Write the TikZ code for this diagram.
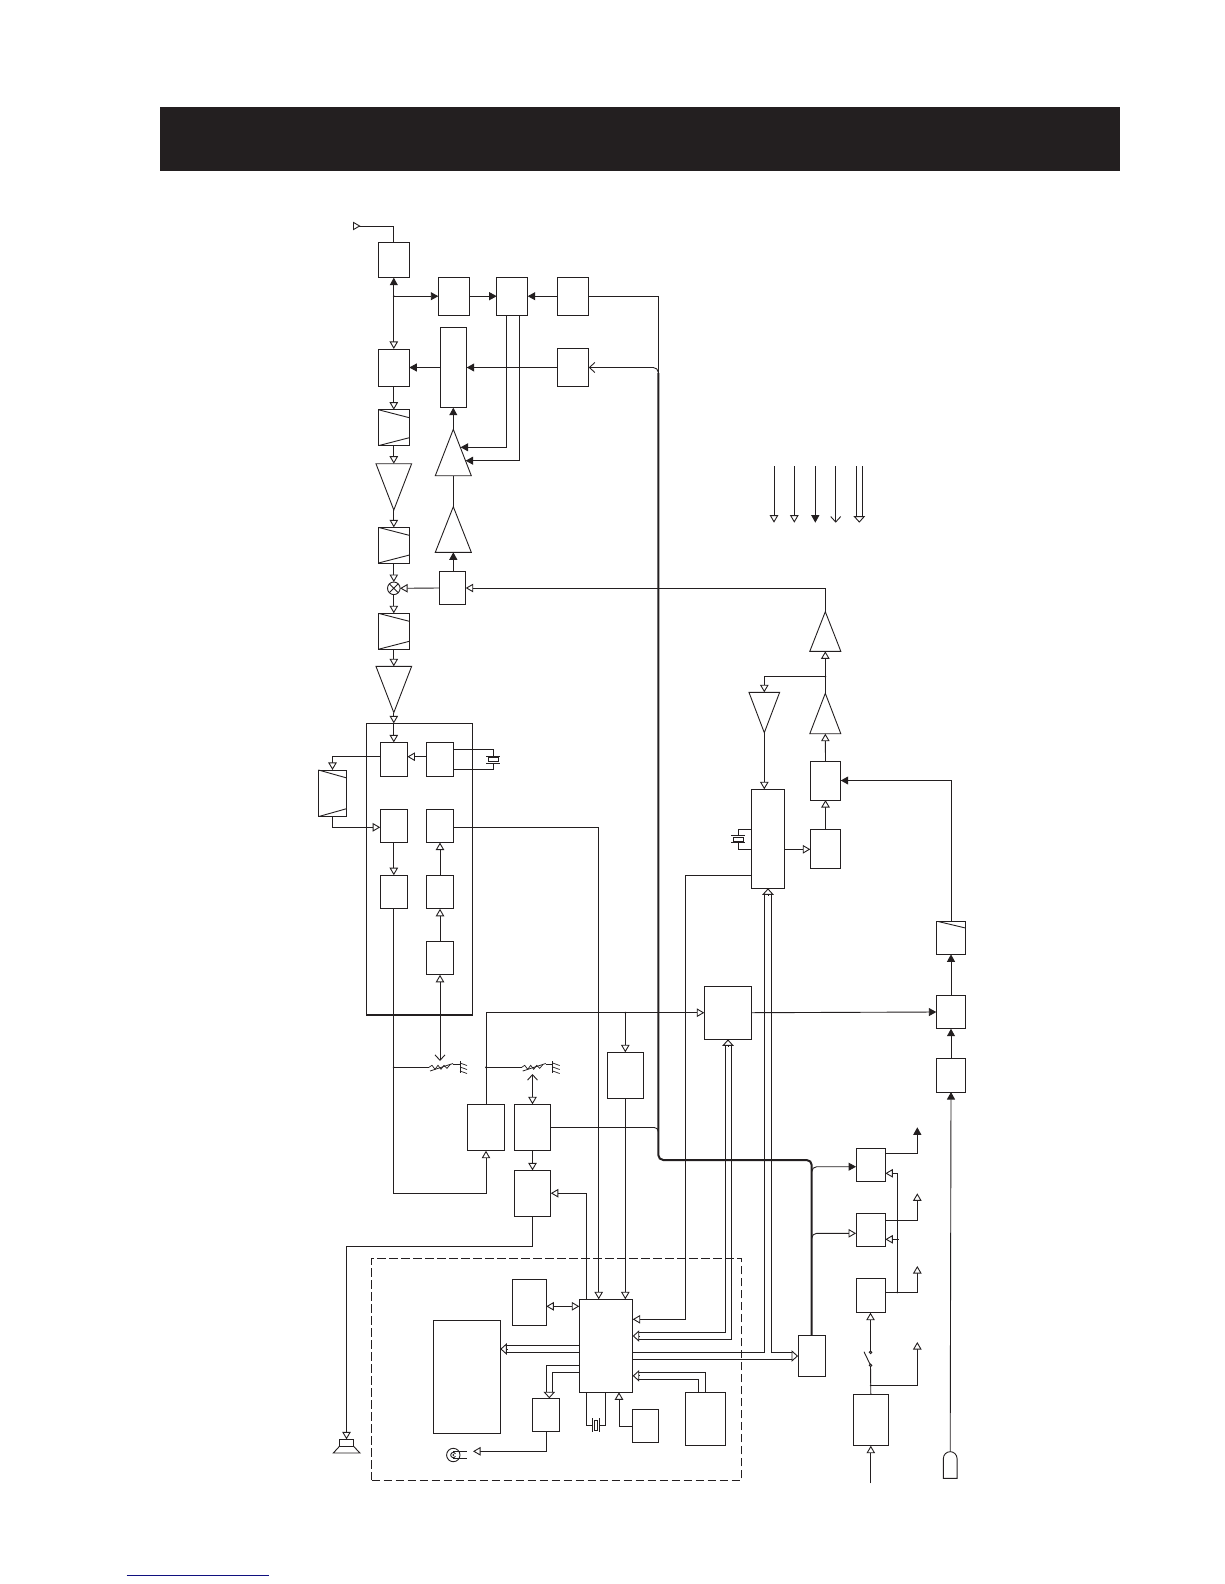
\documentclass[tikz,border=0pt]{standalone}
\usepackage{amsmath,amssymb}
\usetikzlibrary{arrows.meta,calc,shapes.geometric}
\definecolor{ink}{HTML}{231F20}
\definecolor{rulec}{HTML}{10107F}
\tikzset{
  tipO/.tip={Triangle[open,fill=white,length=7.5pt,width=8.5pt]},
  tipF/.tip={Triangle[length=7.5pt,width=8pt]},
  tipV/.tip={Straight Barb[length=5.5pt,width=10pt]},
  tipW/.tip={Triangle[open,fill=white,length=6.5pt,width=11.5pt]},
  ln/.style={draw=ink,line width=.9pt},
  bus/.style={draw=ink,line width=2pt},
  box/.style={draw=ink,line width=.9pt,inner sep=0pt,outer sep=0pt},
  trap/.style={box,path picture={
    \draw[ln] (path picture bounding box.north west) -- ([yshift=-8pt]path picture bounding box.north east);
    \draw[ln] (path picture bounding box.south west) -- ([yshift=8pt]path picture bounding box.south east);}},
  slant/.style={box,path picture={
    \draw[ln] (path picture bounding box.north west) -- ([yshift=-7pt]path picture bounding box.north east);}},
  tri/.style={box,isosceles triangle,isosceles triangle stretches,anchor=apex},
  triup/.style={tri,shape border rotate=90},
  tridn/.style={tri,shape border rotate=270},
  xtal/.style={box},
}
\begin{document}
\begin{tikzpicture}[x=1pt,y=-1pt]
  \useasboundingbox (0,0) rectangle (1224,1584);
  \node[draw=none,fill=ink,minimum width=960pt,minimum height=64pt,inner sep=0pt] (hdr) at (640,138.7) {};
  \draw[draw=rulec,line width=1pt] (126.7,1575.3) -- (269,1575.3);
  % transmit / receive chain
  \foreach \n/\x/\y/\w/\h in {rfsw/393.8/260/31/35.4, txa/453.8/296.2/31/37.7, txb/512.2/296.2/31/37.7,
      txc/573.2/296.2/31/37.7, rxa/393.8/367.8/31/37.7, tall/453.5/367.5/26.4/80.4, txd/573.2/367.5/31/38.4,
      txe/452.5/588/26.4/33.4} {
    \node[box,minimum width=\w pt,minimum height=\h pt] (\n) at (\x,\y) {};
  }
  \foreach \n/\x/\y/\w/\h in {tra/393.8/427.7/31/36, trb/393.8/545.2/31/35.7, trc/393.8/631.3/31/36,
      trd/332.5/793.3/28.4/46.7} {
    \node[trap,minimum width=\w pt,minimum height=\h pt] (\n) at (\x,\y) {};
  }
  \node[tridn,minimum width=35.7pt,minimum height=46.3pt] (ampa) at (393.8,510) {};
  \node[tridn,minimum width=35.7pt,minimum height=46.3pt] (ampb) at (393.8,712.6) {};
  \node[triup,minimum width=36pt,minimum height=46.4pt] (pwa) at (453.3,429.3) {};
  \node[triup,minimum width=36pt,minimum height=45.6pt] (pwb) at (453.3,506.7) {};
  \node[box,circle,minimum size=12.6pt] (mix) at (393.8,588.3) {};
  \draw[ln] (mix.north west) -- (mix.south east) (mix.north east) -- (mix.south west);
  % IF block
  \node[box,minimum width=106pt,minimum height=291.7pt] (ifbox) at (419.7,869.2) {};
  \draw[ln,line width=1.6pt] (ifbox.south west) -- (ifbox.south east);
  \foreach \n/\x/\y in {ica/393.8/759.2, icb/440/759.2, icc/393.8/825.8, icd/440/825.8, ice/393.8/892,
      icf/440/892, icg/440/958} {
    \node[box,minimum width=27.2pt,minimum height=33.6pt] (\n) at (\x,\y) {};
  }
  % audio and control
  \foreach \n/\x/\y/\w/\h in {afa/486/1127.5/36.6/46.4, afb/532.5/1127.5/36.6/46.4, afc/532.5/1193.2/36.6/45.7,
      mod/625.3/1075.3/36.6/46, vco/728/1012.7/47.4/53.3, mem/529.5/1302.5/33.6/46.4, cpu/606/1345.8/53.4/93,
      disp/466.8/1376.8/67/113, drv/546/1415/27.4/33.4, rst/645.5/1426/26.4/33.4, keys/705.3/1419/40/53.4,
      reg/811.7/1356/27.3/41.4, pll/767.8/838.8/33/99, txf/825.5/780.5/30.4/39, txg/825.5/848.7/30.4/39.3,
      mka/951/1012/29.4/33.4, mkb/951/1075.3/29.4/33.4, psa/870.7/1165/29.3/33.4, psb/870.7/1230/29.3/33.4,
      psc/870.7/1295.7/29.3/34, psd/870.8/1420/35/51.4} {
    \node[box,minimum width=\w pt,minimum height=\h pt] (\n) at (\x,\y) {};
  }
  \node[slant,minimum width=29.4pt,minimum height=33.3pt] (lim) at (951,937.7) {};
  \node[tridn,minimum width=30.7pt,minimum height=40.4pt] (ampc) at (764.3,732.7) {};
  \node[triup,minimum width=31pt,minimum height=39.6pt] (pwc) at (825.3,611.7) {};
  \node[triup,minimum width=31pt,minimum height=40.4pt] (pwd) at (825.3,693.3) {};
  \node[box,dashed,dash pattern=on 8.5pt off 3.5pt,minimum width=370pt,minimum height=222pt] (front) at (556.7,1369.3) {};
  % speaker, mic, jack
  \node[box,minimum width=13.6pt,minimum height=6.7pt] (spk) at (346.5,1442.7) {};
  \draw[ln] (spk.south west) -- (333.3,1453) -- (360,1453) -- (spk.south east);
  \node[minimum width=13.7pt,minimum height=26.6pt,inner sep=0pt,outer sep=0pt] (mic) at (950.2,1465) {};
  \draw[ln] (mic.north west |- 0,1458.5) -- (mic.south west) -- (mic.south east) -- (mic.north east |- 0,1458.5)
    arc[start angle=0,end angle=180,radius=6.85pt];
  \node[box,circle,minimum size=13.4pt] (jack) at (453.3,1455) {};
  \draw[ln] (jack.center) ++(2.2,-1.3) arc[start angle=30,end angle=330,radius=2.6pt];
  \fill[ink] (jack.center) circle (1pt);
  \draw[ln] (jack.center |- 0,1451.7) -- (466.7,1451.7);
  \draw[ln] (jack.center |- 0,1458.3) -- (466.7,1458.3);
  % crystals
  \foreach \n/\x/\y in {xta/493.3/759.5, xtb/738.3/839.3} {
    \node[xtal,minimum width=10pt,minimum height=3.4pt] (\n) at (\x,\y) {};
    \draw[ln] ([xshift=-2pt,yshift=1.8pt]\n.north west) -- ([xshift=2pt,yshift=1.8pt]\n.north east);
    \draw[ln] ([xshift=-2pt,yshift=-1.8pt]\n.south west) -- ([xshift=2pt,yshift=-1.8pt]\n.south east);
  }
  \node[xtal,minimum width=3.4pt,minimum height=10pt] (xtc) at (596,1425.3) {};
  \draw[ln] ([xshift=-1.8pt,yshift=2pt]xtc.north west) -- ([xshift=-1.8pt,yshift=-2pt]xtc.south west);
  \draw[ln] ([xshift=1.8pt,yshift=2pt]xtc.north east) -- ([xshift=1.8pt,yshift=-2pt]xtc.south east);
  \draw[ln] (icb.east |- 0,749.3) -| ([yshift=1.8pt]xta.north);
  \draw[ln] (icb.east |- 0,769.3) -| ([yshift=-1.8pt]xta.south);
  \draw[ln] (pll.west |- 0,829.3) -| ([yshift=1.8pt]xtb.north);
  \draw[ln] (pll.west |- 0,849.3) -| ([yshift=-1.8pt]xtb.south);
  \draw[ln] (586,0 |- cpu.south) |- ([xshift=-1.8pt]xtc.west);
  \draw[ln] (605.7,0 |- cpu.south) |- ([xshift=1.8pt]xtc.east);
  % trimmers
  \foreach \n/\s in {vra/0,vrb/92.7} {
    \begin{scope}[xshift=\s pt]
      \coordinate (\n) at (429,1067.3);
      \draw[line width=.7pt,draw=ink] (\n) -- ++(3,-2) -- ++(3,4) -- ++(3,-4) -- ++(3,4) -- ++(3,-4) -- ++(3,3) -- ++(3,-3.5);
      \draw[line width=.8pt,draw=ink] (430,1071) -- (453,1063.5);
      \draw[ln] (453,1064.5) -- (460,1064.5);
      \draw[line width=.7pt,draw=ink] (460,1061) -- (460,1073);
      \foreach \t in {1063,1067,1071} { \draw[line width=.7pt,draw=ink] (460,\t) -- (467,\t+2.5); }
    \end{scope}
  }
  % signal lines
  \coordinate (ant) at (353,226);
  \coordinate (ja) at (rfsw.south |- txa.west);
  \coordinate (jb) at (393.8,1067.3);
  \coordinate (jc) at (486,1067.3);
  \coordinate (jd) at (625.3,1012.7);
  \coordinate (je) at (825.3,676.7);
  \coordinate (jf) at (897.3,1292.3);
  \coordinate (jg) at (870.8,1385.3);
  \foreach \j in {ja,jb,jc,jd,je,jf,jg} { \fill[ink] (\j) circle (1pt); }
  \draw[ln,{Triangle[open,reversed,length=7.5pt,width=8.5pt]}-] (ant) -| (rfsw.north);
  \draw[ln,tipF-tipO] (rfsw.south) -- (rxa.north);
  \draw[ln,-tipF] (ja) -- (txa.west);
  \draw[ln,-tipF] (txa.east) -- (txb.west);
  \draw[ln,-tipF] (txc.west) -- (txb.east);
  \draw[ln,-tipF] (txd.west) -- (tall.east);
  \draw[ln,-tipF] (tall.west) -- (rxa.east |- tall.west);
  \draw[ln,-tipF] (pwa.apex) -- (pwa.apex |- tall.south);
  \draw[ln] (pwb.apex) -- (pwa.lower side);
  \draw[ln,-tipF] (pwb.apex |- txe.north) -- (pwb.lower side);
  \coordinate (gca) at (460.6,447.3);
  \coordinate (gcb) at (465.6,460.7);
  \draw[ln,-tipF] (506.7,0 |- txb.south) |- (gca);
  \draw[ln,-tipF] (519.3,0 |- txb.south) |- (gcb);
  \draw[ln,-tipO] (rxa.south) -- (tra.north);
  \draw[ln,-tipO] (tra.south) -- (ampa.lower side);
  \draw[ln,-tipO] (ampa.apex) -- (trb.north);
  \draw[ln,-tipO] (trb.south) -- (mix.north);
  \draw[ln,-tipO] (mix.south) -- (trc.north);
  \draw[ln,-tipO] (trc.south) -- (ampb.lower side);
  \draw[ln,-tipO] (ampb.apex) -- (ampb.apex |- ifbox.north);
  \draw[ln,-tipO] (ica.north |- ifbox.north) -- (ica.north);
  \draw[ln,-tipO] (txe.west) -- (mix.east);
  \draw[ln,-tipO] (pwc.apex) |- (txe.east);
  \draw[ln,-tipO] (icb.west |- 0,756.7) -- (ica.east |- 0,756.7);
  \draw[ln,-tipO] (ica.west |- 0,756.7) -| (trd.north);
  \draw[ln,-tipO] (trd.south) |- (icc.west |- 0,827.3);
  \draw[ln,-tipO] (icc.south) -- (ice.north);
  \draw[ln,-tipO] (icg.north) -- (icf.south);
  \draw[ln,-tipO] (icf.north) -- (icd.south);
  \draw[ln,-tipO] (icd.east |- 0,827.3) -| (598.7,0 |- cpu.north);
  \draw[ln,-tipO] (ice.south) |- (afc.east -| afa.south) -- (afa.south);
  \draw[ln,tipV-tipO] (icg.south |- 0,1061) -- (icg.south);
  \draw[ln] (jb) -- (vra);
  \draw[ln] (jc) -- (vrb);
  \draw[ln,tipV-tipO] (afb.north |- 0,1074) -- (afb.north);
  \draw[ln,-tipO] (afa.north) |- (vco.west);
  \draw[ln,-tipO] (jd) -- (mod.north);
  \draw[ln,-tipO] (mod.south) -- (mod.south |- cpu.north);
  \draw[ln,-tipO] (afb.south) -- (afc.north);
  \draw[ln,-tipO] (afc.south) |- (346.5,1246.3) -- (spk.north);
  \draw[ln,-tipO] (586,0 |- cpu.north) |- (afc.east);
  \draw[ln,tipO-tipO] (mem.east |- 0,1306.3) -- (cpu.west |- 0,1306.3);
  % buses round the controller
  \coordinate (heada) at (506.8,1349);
  \draw[ln] (cpu.west |- 0,1345.3) -- (heada |- 0,1345.3);
  \draw[ln] (cpu.west |- 0,1352.7) -- (heada |- 0,1352.7);
  \draw[ln,-tipW] (heada) -- (disp.east |- heada);
  \coordinate (headb) at (549.3,1391.8);
  \draw[ln] (cpu.west |- 0,1365.3) -| (546,1391.8);
  \draw[ln] (cpu.west |- 0,1372.3) -| (552.7,1391.8);
  \draw[ln,-tipW] (headb) -- (headb |- drv.north);
  \draw[ln,-tipO] (drv.south) |- (473,1451.3);
  \coordinate (headc) at (639.2,1375.8);
  \draw[ln] (698.7,0 |- keys.north) |- (headc |- 0,1379.3);
  \draw[ln] (705.3,0 |- keys.north) |- (headc |- 0,1372.3);
  \draw[ln,-tipW] (headc) -- (cpu.east |- headc);
  \draw[ln,-tipO] (rst.west) -| (619,0 |- cpu.south);
  \draw[ln,-tipO] (pll.west |- 0,875.3) -| (685.3,1319.3) -- (cpu.east |- 0,1319.3);
  \coordinate (headd) at (639.2,1336);
  \coordinate (heade) at (728,1045.8);
  \draw[ln] (heade -| 725,0) |- (headd |- 0,1332.7);
  \draw[ln] (heade -| 731.3,0) |- (headd |- 0,1339.3);
  \draw[ln,-tipW] (headd) -- (cpu.east |- headd);
  \draw[ln,-tipW] (heade) -- (heade |- vco.south);
  \coordinate (headf) at (768,894.8);
  \coordinate (headg) at (791.5,1356);
  \draw[ln] (cpu.east |- 0,1352.7) -| (headf -| 764.4,0);
  \draw[ln] (headf -| 771.3,0) |- (headg |- 0,1352.7);
  \draw[ln] (cpu.east |- 0,1359.3) -- (headg |- 0,1359.3);
  \draw[ln,-tipW] (headf) -- (headf |- pll.south);
  \draw[ln,-tipW] (headg) -- (reg.west |- headg);
  % transmitter driver side
  \draw[ln,-tipO] (ampc.apex) -- (ampc.apex |- pll.north);
  \draw[ln,-tipO] (pll.east |- 0,849.3) -- (txg.west |- 0,849.3);
  \draw[ln,-tipO] (txg.north) -- (txf.south);
  \draw[ln,-tipO] (txf.north) -- (pwd.lower side);
  \draw[ln,-tipO] (pwd.apex) -- (pwc.lower side);
  \draw[ln,-tipO] (je) -| (ampc.lower side);
  \draw[ln,-tipF] (lim.north) |- (txf.east);
  \draw[ln,-tipF] (mka.north) -- (lim.south);
  \draw[ln,-tipF] (mkb.north) -- (mka.south);
  \draw[ln,-tipF] (mic.north |- 0,1451.7) -- (mkb.south);
  \draw[ln,-tipF] (vco.east) -- (mka.west);
  % power lines
  \coordinate (bustop) at (658.3,373);
  \coordinate (buscor) at (658.3,1160);
  \draw[ln] (txc.east) -| (bustop);
  \draw[ln,rounded corners=5pt,tipV-] (txd.east) -- (txd.east -| bustop) -- (bustop);
  \draw[ln,rounded corners=4pt] (afb.east) -- (afb.east -| bustop) -- (bustop |- 0,1132);
  \draw[bus,rounded corners=5pt] (bustop) -- (buscor) -| (reg.north);
  \draw[ln,rounded corners=5pt,-tipF] (reg.north |- 0,1172) |- (psa.west |- 0,1166.7);
  \draw[ln,rounded corners=5pt,-tipO] (reg.north |- 0,1239) |- (psb.west |- 0,1233.3);
  \coordinate (vca) at (917.3,1127.3);
  \coordinate (vcb) at (917.3,1193.3);
  \coordinate (vcc) at (917.3,1266);
  \coordinate (vcd) at (917.3,1342);
  \draw[ln,-tipF] (psa.east |- 0,1153.3) -| (vca);
  \draw[ln,-tipO] (psb.east |- 0,1220.3) -| (vcb);
  \draw[ln,-tipO] (psc.east |- 0,1292.3) -| (vcc);
  \draw[ln,-tipO] (jg) -| (vcd);
  \draw[ln,-tipO] (jf) |- (psa.east |- 0,1173.3);
  \draw[ln,-tipO] (898.7,1239.3) -- (psb.east |- 0,1239.3);
  \node[box,circle,minimum size=2.6pt] (swa) at (870.5,1352.3) {};
  \node[box,circle,minimum size=2.6pt] (swb) at (870.5,1365.3) {};
  \draw[ln] (swb) -- (864,1351.7);
  \draw[ln,-tipO] (swa) -- (swa |- psc.south);
  \draw[ln] (psd.north) -- (swb);
  \coordinate (inp) at (870.8,1483.3);
  \draw[ln,-tipO] (inp) -- (psd.south);
  % line key
  \foreach \i/\x/\t in {1/774/tipO,2/794.3/tipO,3/815.3/tipF,4/835.7/tipV} {
    \coordinate (ka\i) at (\x,466);
    \coordinate (kb\i) at (\x,522.7);
    \draw[ln,-\t] (ka\i) -- (kb\i);
  }
  \coordinate (kc) at (859.3,516.2);
  \draw[ln] (856.3,466) -- (kc -| 856.3,0);
  \draw[ln] (862.3,466) -- (kc -| 862.3,0);
  \draw[ln,-tipW] (kc) -- (859.3,522.7);
\end{tikzpicture}
\end{document}
